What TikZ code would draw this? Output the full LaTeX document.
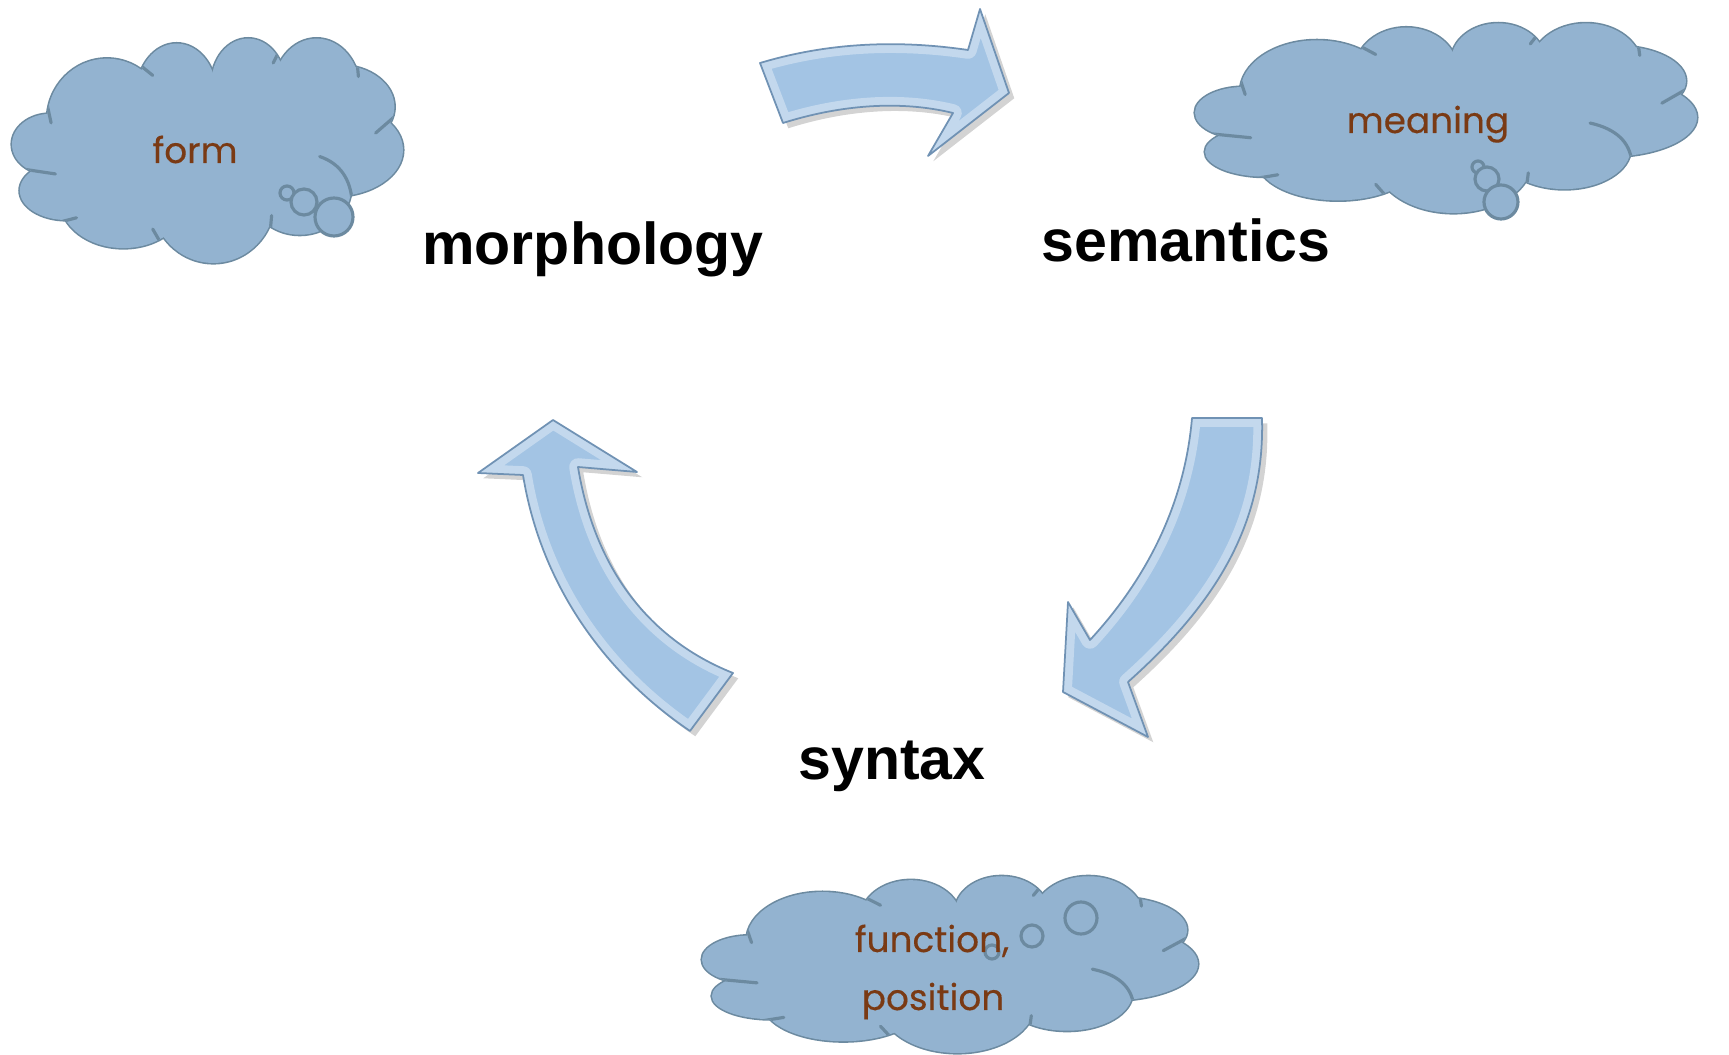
\documentclass[tikz,border=0pt]{standalone}
\usepackage{fontspec}
\setmainfont{Liberation Sans}
\newfontfamily\cloudfont{Poppins}[FakeBold=0.3]
\usetikzlibrary{shadows}

\definecolor{cloudfill}{RGB}{147,179,208}
\definecolor{cloudedge}{RGB}{108,138,160}
\definecolor{cloudtext}{RGB}{122,58,20}
\definecolor{arrowmid}{RGB}{163,196,228}
\definecolor{arrowedge}{RGB}{112,146,180}

\tikzset{
  cloudline/.style={draw=cloudedge,line width=0.9pt,line cap=round},
  thought/.style={cloudline,fill=cloudfill},
  lbl/.style={font=\fontsize{16.8}{20}\selectfont\bfseries,inner sep=0pt},
  cloudtxt/.style={font=\cloudfont\fontsize{10.2}{12}\selectfont,text=cloudtext,inner sep=0pt},
  arrowbody/.style={fill=arrowmid,drop shadow={opacity=0.35,shadow xshift=1.5pt,shadow yshift=-1.5pt}},
  arrowbevel/.style={draw=white,line width=5pt,opacity=0.35,line join=round},
  arrowline/.style={draw=arrowedge,line width=0.5pt,line join=round}
}

% bumps of the cloud, in a 1x1 box (x to the right, y down)
\newcommand{\cloudbumps}{0.098/0.475/0.098/0.135, 0.140/0.680/0.120/0.130,
  0.285/0.721/0.162/0.213, 0.515/0.721/0.157/0.279, 0.736/0.662/0.132/0.213,
  0.821/0.500/0.179/0.206, 0.838/0.309/0.140/0.184, 0.779/0.235/0.111/0.228,
  0.604/0.206/0.094/0.199, 0.421/0.250/0.102/0.221, 0.243/0.368/0.153/0.272}

\newcommand{\cloudshape}[4]{%
  \begin{scope}[shift={(#1,#2)},xscale=#3,yscale=#4]
    \foreach \cx/\cy/\rx/\ry in \cloudbumps
      \draw[cloudline] (\cx,\cy) ellipse [x radius=\rx,y radius=\ry];
    \foreach \cx/\cy/\rx/\ry in \cloudbumps
      \fill[cloudfill] (\cx,\cy) ellipse [x radius=\rx,y radius=\ry];
    \fill[cloudfill] (0.5,0.5) ellipse [x radius=0.4,y radius=0.33];
    % creases, cut to the inside of the cloud
    \begin{scope}
      \clip foreach \cx/\cy/\rx/\ry in \cloudbumps {(\cx,\cy) ellipse [x radius=\rx,y radius=\ry]};
      \draw[cloudline] (0.030,0.585) -- (0.111,0.606);
      \draw[cloudline] (0.120,0.820) -- (0.165,0.800);
      \draw[cloudline] (0.380,0.910) -- (0.360,0.850);
      \draw[cloudline] (0.660,0.870) -- (0.664,0.790);
      \draw[cloudline] (0.787,0.529) .. controls (0.840,0.560) and (0.866,0.630) .. (0.870,0.730);
      \draw[cloudline] (0.980,0.350) -- (0.930,0.425);
      \draw[cloudline] (0.882,0.100) -- (0.886,0.175);
      \draw[cloudline] (0.690,0.040) -- (0.668,0.115);
      \draw[cloudline] (0.520,0.050) -- (0.514,0.125);
      \draw[cloudline] (0.310,0.100) -- (0.360,0.170);
      \draw[cloudline] (0.090,0.300) -- (0.100,0.380);
    \end{scope}
  \end{scope}}

\newcommand{\bevelarrow}[1]{%
  \fill[arrowbody] #1;
  \begin{scope}
    \clip #1;
    \draw[arrowbevel] #1;
  \end{scope}
  \draw[arrowline] #1;}

\begin{document}
\begin{tikzpicture}[x=0.01cm,y=-0.01cm]
  \useasboundingbox (0,0) rectangle (1729,1055);

  % clouds
  \cloudshape{12}{37}{391}{226}
  \cloudshape{1195}{22}{502}{191}
  \cloudshape{702}{875}{496}{178}

  \draw[thought] (287,193) circle (7);
  \draw[thought] (304,202) circle (13);
  \draw[thought] (334,217) circle (19);
  \draw[thought] (1478,167) circle (6);
  \draw[thought] (1487,179) circle (12);
  \draw[thought] (1501,202) circle (17);
  \draw[thought] (992,952) circle (7);
  \draw[thought] (1032,936) circle (11);
  \draw[thought] (1081,918) circle (16);

  \node[cloudtxt,anchor=base] (form) at (195,163) {form};
  \node[cloudtxt,anchor=base] (meaning) at (1428,133) {meaning};
  \node[cloudtxt,anchor=base] (function) at (932,952) {function,};
  \node[cloudtxt,anchor=base] (position) at (933,1010) {position};

  % labels
  \node[lbl,anchor=base] (morph) at (593,265) {morphology};
  \node[lbl,anchor=base] (sem) at (1186,262) {semantics};
  \node[lbl,anchor=base] (syn) at (892,780) {syntax};

  % arrows
  \bevelarrow{(760,63) .. controls (830,42) and (900,40) .. (968,50) -- (980,9) -- (1009,93)
    -- (928,156) -- (953,113) .. controls (900,100) and (840,105) .. (783,123) -- cycle}
  \bevelarrow{(1192,418) -- (1262,418) .. controls (1265,520) and (1220,600) .. (1128,682)
    -- (1148,737) -- (1063,692) -- (1068,602) -- (1090,640)
    .. controls (1150,575) and (1185,500) .. (1192,418) -- cycle}
  \bevelarrow{(553,420) -- (637,472) -- (578,467) .. controls (595,570) and (650,640) .. (733,673)
    -- (690,731) .. controls (600,670) and (540,580) .. (523,475) -- (478,473) -- cycle}
\end{tikzpicture}
\end{document}
